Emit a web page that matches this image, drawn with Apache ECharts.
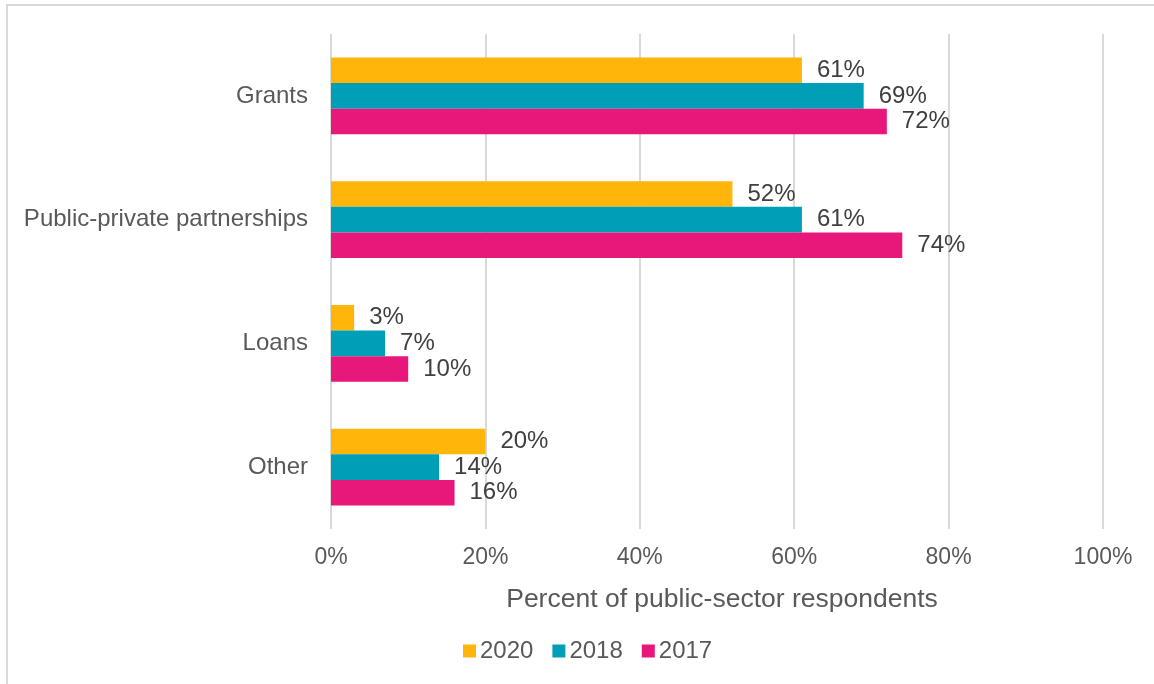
<!DOCTYPE html>
<html>
<head>
<meta charset="utf-8">
<script src="https://cdn.jsdelivr.net/npm/echarts@6/dist/echarts.min.js"></script>
<style>
  html, body { margin: 0; padding: 0; background: #fff; }
  #chart { width: 1154px; height: 684px; }
</style>
</head>
<body>
<div id="chart"></div>
<script>
// Funding sources named by public-sector respondents, by survey year
const categories = ['Grants', 'Public-private partnerships', 'Loans', 'Other'];
const seriesNames = ['2020', '2018', '2017'];
const values2020 = [61, 52, 3, 20];
const values2018 = [69, 61, 7, 14];
const values2017 = [72, 74, 10, 16];
const xTicks = [0, 20, 40, 60, 80, 100];
const colors = ['#FFB50A', '#009FB7', '#E8177A'];

const FONT = '"Liberation Sans", Arial, sans-serif';
const seriesValues = [values2020, values2018, values2017];

const chart = echarts.init(document.getElementById('chart'), null, { renderer: 'canvas' });

chart.setOption({
  animation: false,
  backgroundColor: '#fff',
  textStyle: { fontFamily: FONT },
  graphic: [{
    type: 'rect',
    shape: { x: 7, y: 5, width: 1160, height: 700 },
    style: { fill: 'none', stroke: '#D9D9D9', lineWidth: 2 },
    silent: true
  }],
  grid: { left: 331, right: 51, top: 34, bottom: 155, containLabel: false },
  legend: {
    data: seriesNames,
    bottom: 16,
    left: 458,
    itemWidth: 13,
    itemHeight: 13,
    itemGap: 19,
    icon: 'rect',
    textStyle: { color: '#595959', fontSize: 24, fontFamily: FONT, padding: [0, 0, 0, -1] }
  },
  xAxis: {
    type: 'value',
    min: xTicks[0],
    max: xTicks[xTicks.length - 1],
    interval: xTicks[1] - xTicks[0],
    name: 'Percent of public-sector respondents',
    nameLocation: 'middle',
    nameGap: 57,
    nameTextStyle: { color: '#595959', fontSize: 26.5, fontFamily: FONT, padding: [0, 0, 0, 10] },
    axisLine: { show: false },
    axisTick: { show: false },
    axisLabel: {
      color: '#595959', fontSize: 23, fontFamily: FONT, margin: 17,
      formatter: v => v + '%'
    },
    splitLine: { show: true, lineStyle: { color: '#D9D9D9', width: 2 } }
  },
  yAxis: {
    type: 'category',
    data: categories,
    inverse: true,
    axisLine: { show: false },
    axisTick: { show: false },
    axisLabel: { color: '#595959', fontSize: 24, fontFamily: FONT, margin: 23 },
    splitLine: { show: false }
  },
  series: seriesNames.map((name, i) => ({
    name: name,
    type: 'bar',
    data: seriesValues[i],
    barGap: '0%',
    barCategoryGap: '38%',
    itemStyle: { color: colors[i] },
    label: {
      show: true,
      position: 'right',
      distance: 15,
      color: '#404040',
      fontSize: 24,
      fontFamily: FONT,
      formatter: p => p.value + '%'
    }
  }))
});
</script>
</body>
</html>
